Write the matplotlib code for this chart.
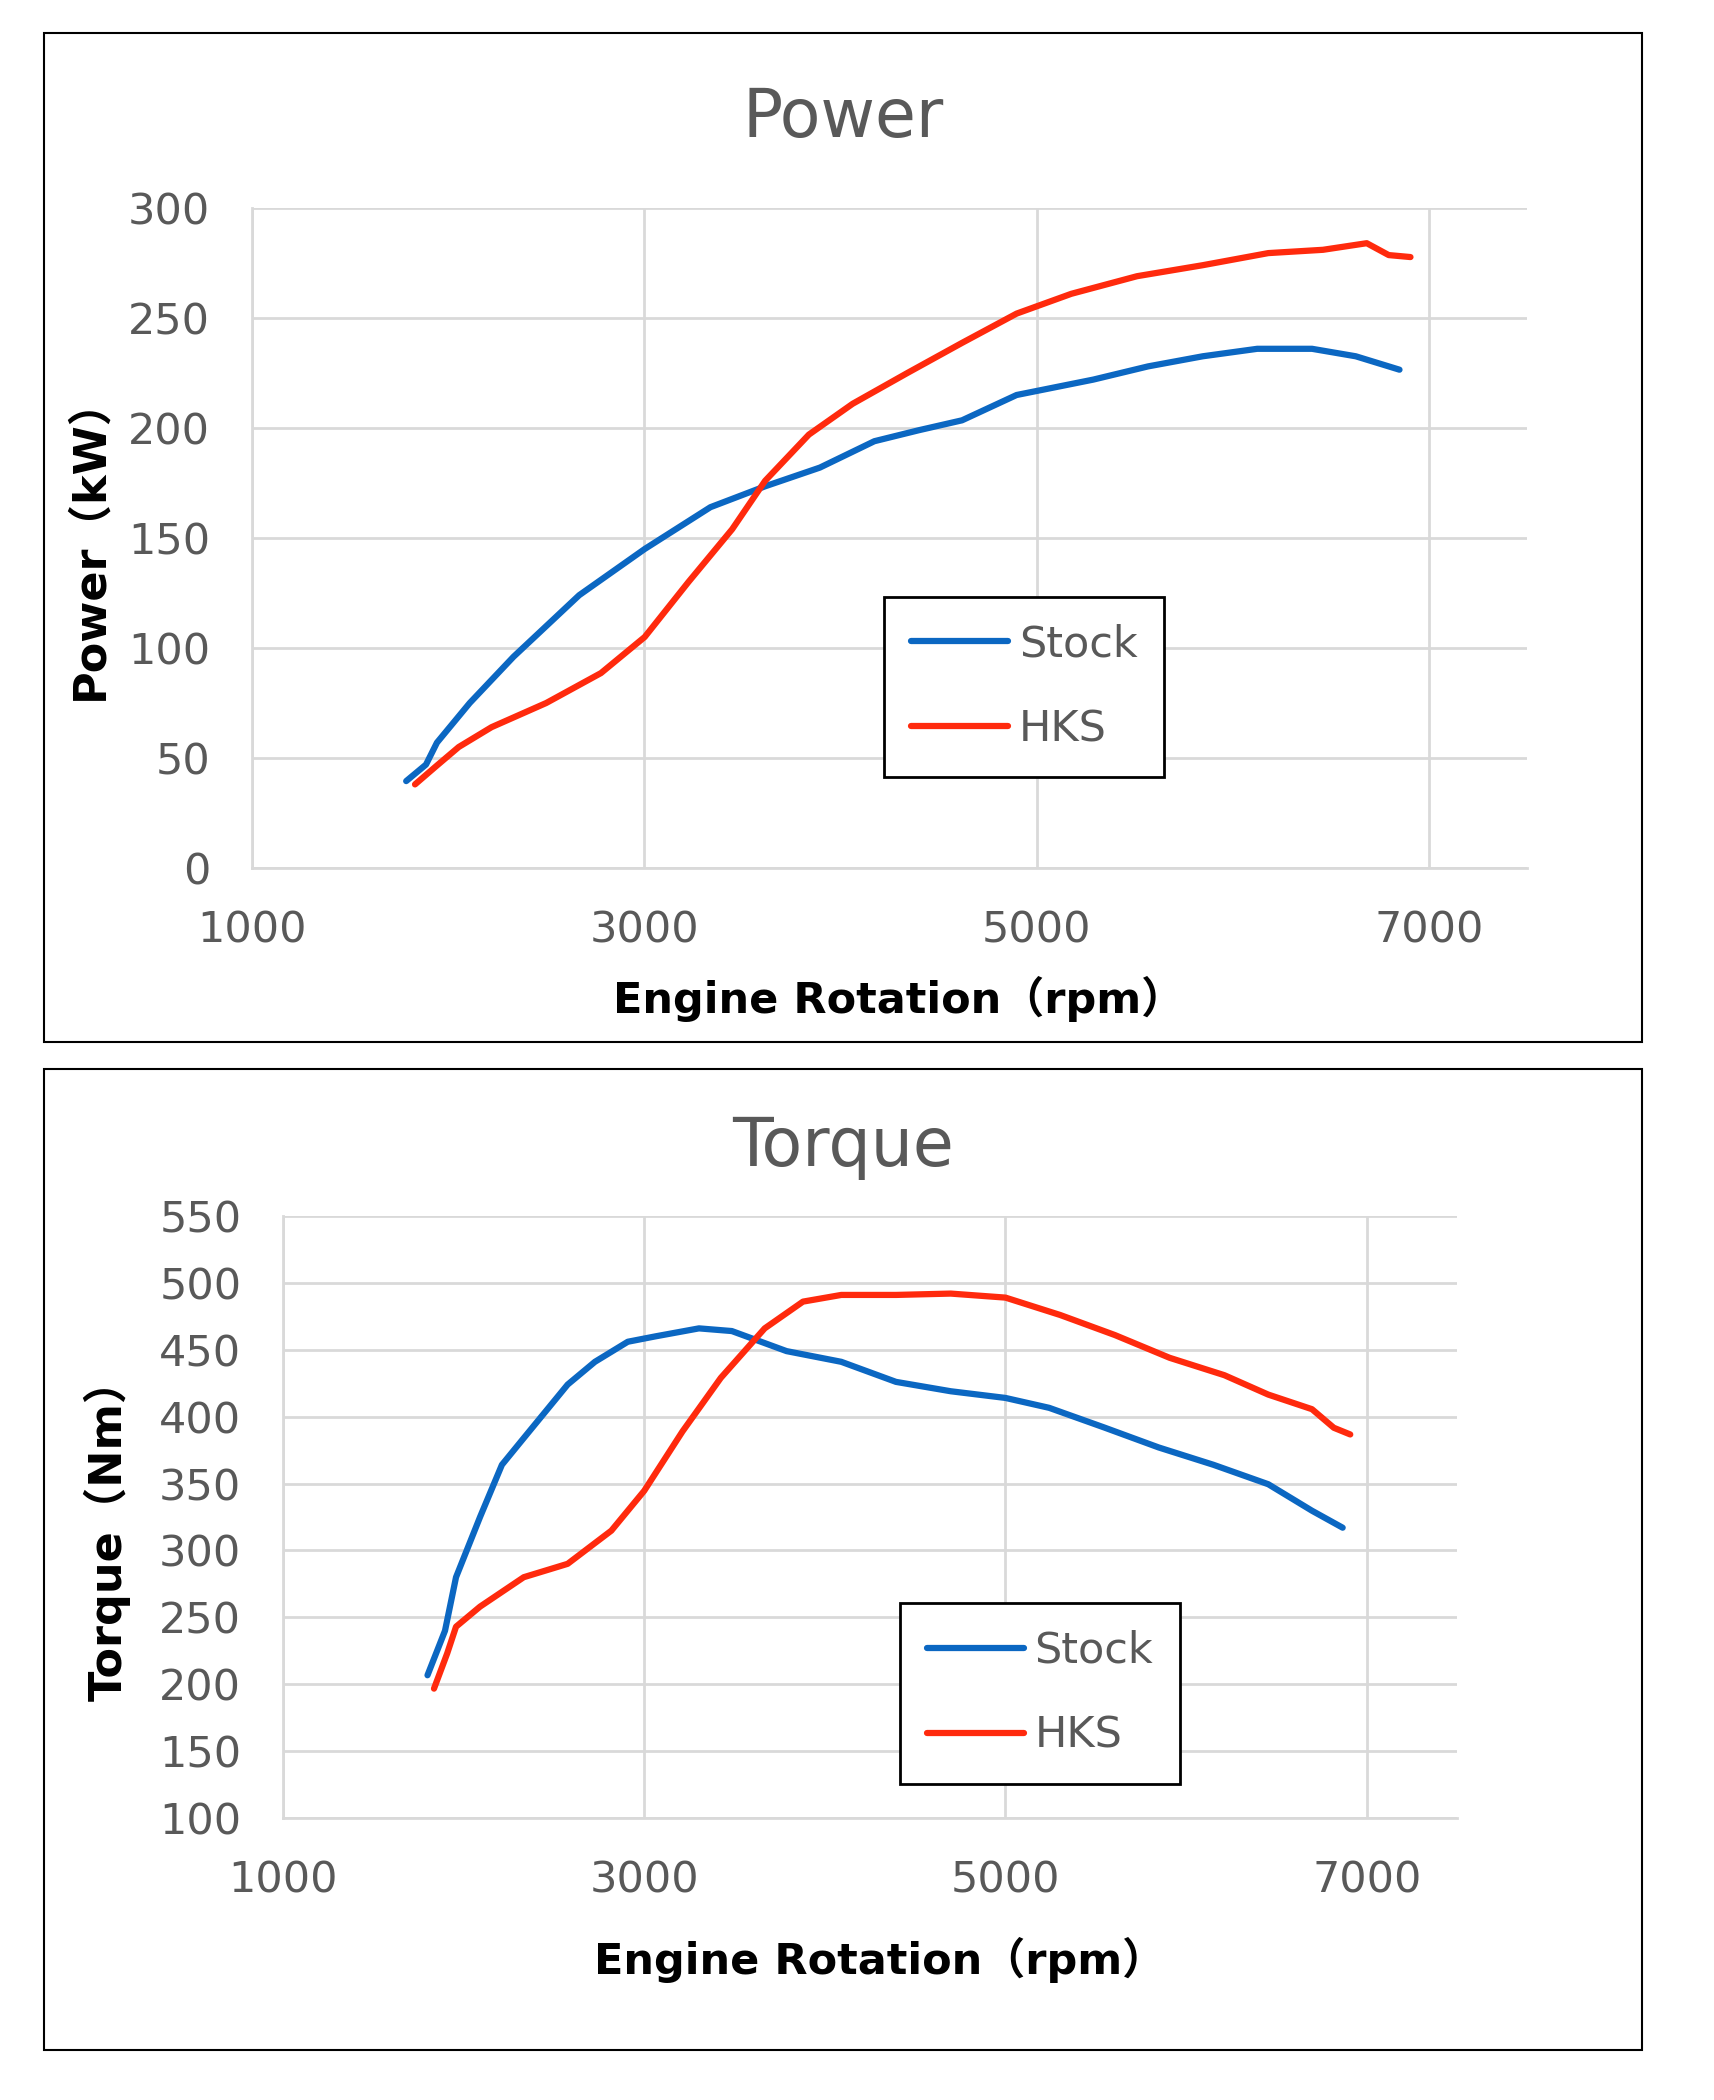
import matplotlib
matplotlib.use('Agg')
import matplotlib.pyplot as plt
from matplotlib.patches import Rectangle

# ---------------- data ----------------
power_stock_rpm = [1786, 1887, 1943, 2110, 2333, 2668, 3002, 3337, 3616, 3895, 4173, 4400, 4620,
                   4898, 5289, 5568, 5847, 6125, 6404, 6627, 6850]
power_stock_kw = [39.5, 47, 57, 75, 96, 124, 145, 164, 173.5, 182, 194, 199, 203.5,
                  215, 222, 228, 232.6, 236, 236, 232.6, 226.5]
power_hks_rpm = [1831, 1943, 2054, 2221, 2500, 2779, 3002, 3225, 3448, 3616, 3839, 4062,
                 4341, 4620, 4898, 5177, 5512, 5847, 6181, 6460, 6683, 6795, 6906]
power_hks_kw = [38, 46.6, 55, 64, 75, 88.6, 105, 130, 154, 176, 197, 211,
                225, 238.7, 252, 261, 269, 274, 279.5, 281, 284, 278.6, 277.7]

torque_stock_rpm = [1800, 1897, 1958, 2091, 2212, 2333, 2576, 2727, 2909, 3061, 3303, 3485,
                    3788, 4091, 4394, 4697, 5000, 5242, 5545, 5848, 6152, 6455, 6697, 6867]
torque_stock_nm = [206.7, 240, 280, 325, 364, 384, 424, 441, 456, 460, 466, 464,
                   449, 441, 426, 419, 414, 406.6, 392, 377, 364, 349.5, 329.7, 317]
torque_hks_rpm = [1836, 1909, 1958, 2091, 2333, 2576, 2818, 3000, 3212, 3424, 3667, 3879,
                  4091, 4394, 4697, 5000, 5303, 5606, 5909, 6212, 6455, 6697, 6818, 6909]
torque_hks_nm = [196.7, 223, 243, 258, 280, 290, 314.8, 344.6, 389, 429, 466, 486,
                 491, 491, 492, 489, 476, 461, 444, 431, 416.5, 405.6, 391.7, 386.7]

x_ticks = [1000, 3000, 5000, 7000]
power_ticks = [0, 50, 100, 150, 200, 250, 300]
torque_ticks = [100, 150, 200, 250, 300, 350, 400, 450, 500, 550]
series_names = ['Stock', 'HKS']

# ---------------- style ----------------
BLUE = '#0B67C2'
RED = '#FF2A0D'
GRID = '#D9D9D9'
TXT = '#595959'
W, H = 1714, 2100

fig = plt.figure(figsize=(W / 100, H / 100), dpi=100)


def fx(px):
    return px / W


def fy(py):
    return 1 - py / H


def panel(box, axrect, title, title_xy, xl_xy, yl, yl_xy,
          xs, ys, yticks, ylim, leg_anchor):
    x0, y0, x1, y1 = box
    fig.add_artist(Rectangle((fx(x0), fy(y1)), fx(x1) - fx(x0), fy(y0) - fy(y1),
                             transform=fig.transFigure, fill=False,
                             ec='black', lw=1.5))
    ax = fig.add_axes(axrect)
    ax.plot(xs[0], ys[0], color=BLUE, lw=4.5, label=series_names[0],
            solid_capstyle='round', solid_joinstyle='round')
    ax.plot(xs[1], ys[1], color=RED, lw=4.5, label=series_names[1],
            solid_capstyle='round', solid_joinstyle='round')
    ax.set_xlim(1000, 7500)
    ax.set_ylim(*ylim)
    ax.set_xticks(x_ticks)
    ax.set_yticks(yticks)
    ax.set_axisbelow(True)
    ax.grid(True, color=GRID, lw=2)
    for s in ['top', 'right']:
        ax.spines[s].set_visible(False)
    for s in ['left', 'bottom']:
        ax.spines[s].set_color(GRID)
        ax.spines[s].set_linewidth(2)
    ax.tick_params(length=0, labelsize=31, labelcolor=TXT, pad=30)
    leg = ax.legend(loc='upper left', bbox_to_anchor=leg_anchor, fontsize=31,
                    frameon=True, fancybox=False, edgecolor='black',
                    handlelength=2.25, handletextpad=0.25, borderpad=0.62,
                    labelspacing=1.0, borderaxespad=0, framealpha=1)
    leg.get_frame().set_linewidth(2)
    for t in leg.get_texts():
        t.set_color(TXT)
    fig.text(fx(title_xy[0]), fy(title_xy[1]), title, ha='center', va='center',
             fontsize=48, color=TXT)
    fig.text(fx(xl_xy[0]), fy(xl_xy[1]), 'Engine Rotation（rpm）', ha='center',
             va='center', fontsize=31, fontweight='bold', color='black',
             family=['DejaVu Sans', 'Noto Sans CJK JP'])
    fig.text(fx(yl_xy[0]), fy(yl_xy[1]), yl, ha='center', va='center',
             rotation=90, fontsize=32, fontweight='bold', color='black',
             family=['DejaVu Sans', 'Noto Sans CJK JP'])
    return ax


panel((44, 33, 1642, 1042),
      [fx(252), fy(868), fx(1527) - fx(252), fy(208) - fy(868)],
      'Power', (843, 118), (899, 999), 'Power（kW）', (90, 538),
      (power_stock_rpm, power_hks_rpm), (power_stock_kw, power_hks_kw),
      power_ticks, (0, 300), (0.496, 0.411))

panel((44, 1069, 1642, 2050),
      [fx(283), fy(1818), fx(1457) - fx(283), fy(1216) - fy(1818)],
      'Torque', (843, 1147), (880, 1960), 'Torque（Nm）', (107, 1529),
      (torque_stock_rpm, torque_hks_rpm), (torque_stock_nm, torque_hks_nm),
      torque_ticks, (100, 550), (0.5256, 0.357))

fig.savefig('out.png', dpi=100, facecolor='white')
